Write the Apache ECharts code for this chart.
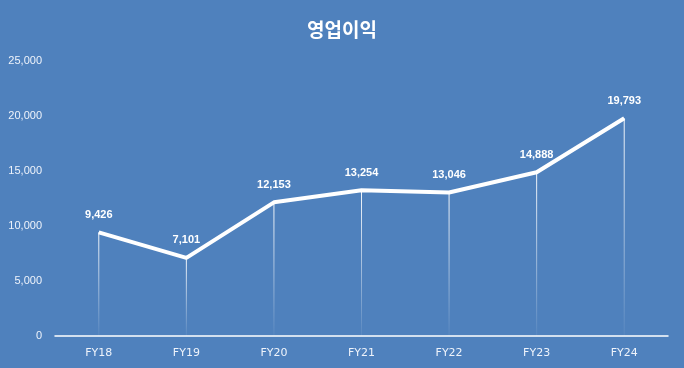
<!DOCTYPE html>
<html><head><meta charset="utf-8">
<script src="https://cdn.jsdelivr.net/npm/echarts@6/dist/echarts.min.js"></script>
<style>html,body{margin:0;padding:0;background:#4f81bd}#c{width:684px;height:368px}</style>
</head><body><div id="c"></div>
<script>
const categories = ['FY18','FY19','FY20','FY21','FY22','FY23','FY24'];
const operatingProfit = [9426, 7101, 12153, 13254, 13046, 14888, 19793];
const titleText = '영업이익';

const chart = echarts.init(document.getElementById('c'));
chart.setOption({
  backgroundColor: '#4f81bd',
  animation: false,
  title: {
    text: titleText, left: 'center', top: 15,
    textStyle: {color: '#ffffff', fontSize: 19, fontWeight: 'bold', fontFamily: 'Noto Sans CJK KR'}
  },
  grid: {left: 55, right: 16, top: 61, bottom: 32},
  xAxis: {
    type: 'category', data: categories,
    axisLine: {lineStyle: {color: '#ffffff', width: 1.5}},
    axisTick: {show: false},
    axisLabel: {color: '#eef3fb', fontSize: 11, margin: 12, fontFamily: 'DejaVu Sans'}
  },
  yAxis: {
    type: 'value', min: 0, max: 25000, interval: 5000,
    splitLine: {show: false},
    axisLine: {show: false}, axisTick: {show: false},
    axisLabel: {
      color: '#eef3fb', fontSize: 11, margin: 13, fontFamily: 'Liberation Sans',
      formatter: v => v.toLocaleString('en-US')
    }
  },
  series: [
    {
      type: 'bar', data: operatingProfit, barWidth: 1, silent: true,
      itemStyle: {
        color: new echarts.graphic.LinearGradient(0, 0, 0, 1, [
          {offset: 0, color: 'rgba(255,255,255,0.95)'},
          {offset: 1, color: 'rgba(255,255,255,0.05)'}
        ])
      },
      label: {
        show: true, position: 'top', distance: 12,
        color: '#ffffff', fontSize: 11, fontWeight: 'bold', fontFamily: 'Liberation Sans',
        formatter: p => p.value.toLocaleString('en-US')
      },
      z: 1
    },
    {
      type: 'line', data: operatingProfit, symbol: 'none', z: 3,
      lineStyle: {color: '#ffffff', width: 4}
    }
  ]
});
</script></body></html>
